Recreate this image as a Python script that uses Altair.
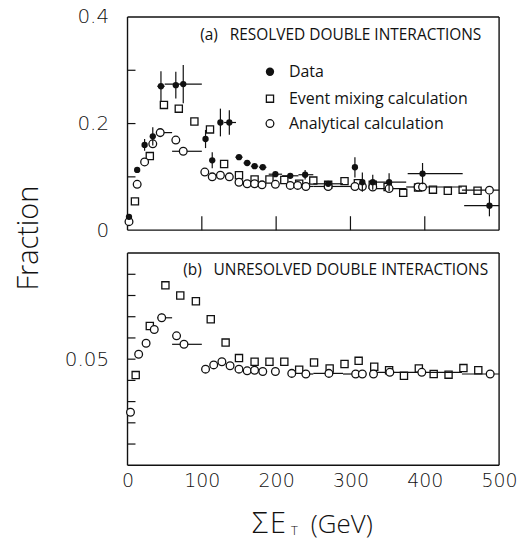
import altair as alt
import pandas as pd

FONT = "Open Sans"
TICKFONT = "DejaVu Sans"

# ---------------- panel (a): resolved double interactions ----------------
data_E = [2, 13, 23, 34, 45, 65, 75, 105, 114, 125, 137, 150, 161, 171, 182,
          199, 219, 239, 270, 306, 316, 330, 352, 397, 487]
data_v = [0.025, 0.113, 0.160, 0.176, 0.270, 0.272, 0.274, 0.171, 0.131, 0.202,
          0.202, 0.137, 0.126, 0.120, 0.118, 0.105, 0.102, 0.104, 0.087, 0.118,
          0.090, 0.090, 0.090, 0.106, 0.046]
data_yerr = [0.005, 0.0, 0.011, 0.017, 0.028, 0.025, 0.036, 0.017, 0.015, 0.026,
             0.023, 0.0, 0.0, 0.0, 0.0, 0.004, 0.004, 0.009, 0.004, 0.019,
             0.018, 0.014, 0.017, 0.020, 0.020]
data_xlo = [2, 13, 23, 34, 40, 65, 50, 105, 114, 125, 130, 145, 156, 166, 177,
            190, 208, 230, 250, 306, 316, 330, 330, 377, 453]
data_xhi = [2, 13, 23, 34, 50, 65, 100, 105, 114, 125, 146, 155, 166, 176, 187,
            208, 230, 250, 290, 306, 316, 330, 375, 451, 500]

mix_a_E = [10, 30, 49, 69, 90, 111, 130, 150, 171, 191, 211, 231, 250, 270,
           292, 310, 330, 350, 371, 391, 411, 431, 451, 471]
mix_a_v = [0.054, 0.139, 0.235, 0.228, 0.204, 0.189, 0.124, 0.103, 0.095,
           0.095, 0.094, 0.087, 0.093, 0.085, 0.092, 0.088, 0.085, 0.081,
           0.070, 0.080, 0.076, 0.074, 0.076, 0.074]

ana_a_E = [2, 13, 23, 34, 44, 65, 75, 104, 114, 125, 137, 150, 161, 171, 181,
           199, 219, 229, 240, 270, 306, 316, 330, 352, 391, 397, 487]
ana_a_v = [0.016, 0.086, 0.128, 0.162, 0.183, 0.169, 0.148, 0.109, 0.100,
           0.103, 0.100, 0.090, 0.087, 0.087, 0.085, 0.086, 0.084, 0.084,
           0.082, 0.082, 0.082, 0.082, 0.081, 0.078, 0.081, 0.081, 0.075]
ana_a_xlo = [2, 13, 23, 34, 40, 65, 60, 104, 114, 125, 137, 150, 161, 171, 181,
             199, 219, 229, 240, 250, 290, 316, 330, 330, 375, 397, 450]
ana_a_xhi = [2, 13, 23, 34, 60, 65, 100, 104, 114, 125, 137, 150, 161, 171, 181,
             199, 219, 229, 250, 290, 310, 316, 330, 375, 391, 450, 500]

# ---------------- panel (b): unresolved double interactions ----------------
mix_b_E = [11, 30, 51, 71, 92, 112, 132, 150, 171, 191, 211, 231, 251, 272,
           292, 311, 332, 352, 372, 392, 412, 432, 452, 472]
mix_b_v = [0.0425, 0.0656, 0.0848, 0.0800, 0.0773, 0.0688, 0.0578, 0.0505,
           0.0488, 0.0488, 0.0488, 0.0450, 0.0484, 0.0456, 0.0477, 0.0492,
           0.0464, 0.0448, 0.0422, 0.0456, 0.0430, 0.0427, 0.0458, 0.0448]

ana_b_E = [4, 15, 25, 36, 46, 66, 76, 105, 116, 127, 138, 150, 161, 171, 182,
           199, 221, 240, 271, 307, 316, 331, 353, 396, 488]
ana_b_v = [0.0250, 0.0523, 0.0575, 0.0640, 0.0695, 0.0610, 0.0570, 0.0453,
           0.0473, 0.0488, 0.0469, 0.0453, 0.0445, 0.0448, 0.0442, 0.0442,
           0.0433, 0.0430, 0.0433, 0.0430, 0.0430, 0.0430, 0.0438, 0.0438,
           0.0430]
ana_b_yerr = [0, 0, 0, 0.0015, 0.0020, 0, 0.0012, 0, 0, 0, 0, 0, 0, 0, 0,
              0, 0, 0, 0, 0, 0, 0, 0, 0, 0]
ana_b_xlo = [4, 15, 25, 36, 40, 66, 60, 105, 116, 127, 138, 150, 161, 171, 182,
             199, 221, 240, 250, 290, 316, 331, 330, 375, 450]
ana_b_xhi = [4, 15, 25, 36, 60, 66, 100, 105, 116, 127, 138, 150, 161, 171, 182,
             199, 221, 250, 290, 310, 316, 331, 375, 450, 500]

# axis ticks / labels
x_ticks_a = [100, 200, 300, 400]
y_ticks_a = [0.1, 0.2, 0.3]
y_labels_a = [0, 0.2, 0.4]
y_ticks_b = [0.01, 0.02, 0.03, 0.04, 0.05, 0.06, 0.07, 0.08, 0.09]
y_labels_b = [0.05]
x_labels_b = [0, 100, 200, 300, 400, 500]

legend_labels = ["Data", "Event mixing calculation", "Analytical calculation"]
title_a = "(a)\u2002 RESOLVED DOUBLE INTERACTIONS"
title_b = "(b)\u2002 UNRESOLVED DOUBLE INTERACTIONS"

W = 373
HA = 214
HB = 213
INK = "#111111"

xscale = alt.Scale(domain=[0, 500], nice=False, zero=False)
ya = alt.Scale(domain=[0, 0.4], nice=False)
yb = alt.Scale(domain=[0, 0.1], nice=False)

ax_a_x = None
ax_a_y = alt.Axis(values=y_labels_a, format="~g", ticks=False, domain=False,
                  grid=False, labelFont=TICKFONT, labelFontSize=20,
                  labelColor=INK, labelPadding=19, labelFontWeight=300)
ax_b_y = alt.Axis(values=y_labels_b, format="~g", ticks=False, domain=False,
                  grid=False, labelFont=TICKFONT, labelFontSize=20,
                  labelColor=INK, labelPadding=19, labelFontWeight=300)
ax_b_x = alt.Axis(values=x_labels_b, format="d", ticks=False, domain=False,
                  grid=False, labelFont=TICKFONT, labelFontSize=19,
                  labelColor=INK, labelPadding=6, labelFontWeight=300,
                  labelFlush=False)

df_data = pd.DataFrame({"E": data_E, "v": data_v,
                        "lo": [v - e for v, e in zip(data_v, data_yerr)],
                        "hi": [v + e for v, e in zip(data_v, data_yerr)],
                        "xlo": data_xlo, "xhi": data_xhi})
df_mix_a = pd.DataFrame({"E": mix_a_E, "v": mix_a_v})
df_ana_a = pd.DataFrame({"E": ana_a_E, "v": ana_a_v,
                         "xlo": ana_a_xlo, "xhi": ana_a_xhi})
df_mix_b = pd.DataFrame({"E": mix_b_E, "v": mix_b_v})
df_ana_b = pd.DataFrame({"E": ana_b_E, "v": ana_b_v,
                         "lo": [v - e for v, e in zip(ana_b_v, ana_b_yerr)],
                         "hi": [v + e for v, e in zip(ana_b_v, ana_b_yerr)],
                         "xlo": ana_b_xlo, "xhi": ana_b_xhi})


class Panel:
    def __init__(self, yscale, xaxis, yaxis, h):
        self.ys = yscale
        self.xa = xaxis
        self.ya = yaxis
        self.h = h

    def X(self, field="E"):
        return alt.X(f"{field}:Q", scale=xscale, axis=self.xa, title=None)

    def Y(self, field="v"):
        return alt.Y(f"{field}:Q", scale=self.ys, axis=self.ya, title=None)

    def squares(self, df):
        return alt.Chart(df).mark_point(shape="square", filled=False, size=52,
                                        strokeWidth=1.3, color=INK, opacity=1).encode(
            x=self.X(), y=self.Y())

    def circles(self, df):
        return alt.Chart(df).mark_point(shape="circle", filled=True, size=60,
                                        fill="white", stroke=INK, strokeWidth=1.3,
                                        opacity=1, fillOpacity=1).encode(
            x=self.X(), y=self.Y())

    def hbars(self, df):
        return alt.Chart(df).mark_rule(color=INK, strokeWidth=1.2).encode(
            x=self.X("xlo"), x2="xhi:Q", y=self.Y())

    def vbars(self, df):
        return alt.Chart(df).mark_rule(color=INK, strokeWidth=1.2).encode(
            x=self.X(), y=self.Y("lo"), y2="hi:Q")

    def yticks(self, vals):
        return alt.Chart(pd.DataFrame({"v": vals})).mark_rule(
            color=INK, strokeWidth=1.2).encode(
            y=self.Y(), x=alt.value(0), x2=alt.value(8))

    def xticks(self, vals):
        return alt.Chart(pd.DataFrame({"E": vals})).mark_rule(
            color=INK, strokeWidth=1.2).encode(
            x=self.X(), y=alt.value(self.h - 14), y2=alt.value(self.h))

    def base(self):
        return alt.Chart(pd.DataFrame({"E": [0], "v": [0.0]})).mark_point(
            opacity=0).encode(x=self.X(), y=self.Y())

    def frame(self):
        one = pd.DataFrame({"a": [0]})
        edges = [
            dict(x=alt.value(0), x2=alt.value(W), y=alt.value(0)),
            dict(x=alt.value(0), x2=alt.value(W), y=alt.value(self.h)),
            dict(x=alt.value(0), y=alt.value(0), y2=alt.value(self.h)),
            dict(x=alt.value(W), y=alt.value(0), y2=alt.value(self.h)),
        ]
        return [alt.Chart(one).mark_rule(color=INK, strokeWidth=1.4).encode(**e)
                for e in edges]


def text_at(txt, xx, yy, fs, weight=400, align="left", baseline="middle",
            angle=0, font=FONT):
    kw = dict(font=font, fontSize=fs, fontWeight=weight, align=align,
              baseline=baseline, color=INK)
    if angle:
        kw["angle"] = angle
    return alt.Chart(pd.DataFrame({"t": [txt]})).mark_text(**kw).encode(
        text="t:N", x=alt.value(xx), y=alt.value(yy))


# ---------------- top panel ----------------
pa = Panel(ya, ax_a_x, ax_a_y, HA)

leg_y = [55, 82, 107]
leg_marks = [
    alt.Chart(pd.DataFrame({"a": [0]})).mark_point(
        shape="circle", filled=True, size=70, color=INK, opacity=1).encode(
        x=alt.value(143), y=alt.value(leg_y[0])),
    alt.Chart(pd.DataFrame({"a": [0]})).mark_point(
        shape="square", filled=False, size=52, strokeWidth=1.3, color=INK, opacity=1).encode(
        x=alt.value(143), y=alt.value(leg_y[1])),
    alt.Chart(pd.DataFrame({"a": [0]})).mark_point(
        shape="circle", filled=False, size=60, strokeWidth=1.3, color=INK, opacity=1).encode(
        x=alt.value(143), y=alt.value(leg_y[2])),
]
for lab, yy in zip(legend_labels, leg_y):
    leg_marks.append(text_at(lab, 162, yy, 16))

data_pts = alt.Chart(df_data).mark_point(shape="circle", filled=True, size=40,
                                         color=INK, opacity=1).encode(
    x=pa.X(), y=pa.Y())

top = alt.layer(
    pa.base(), *pa.frame(), pa.xticks(x_ticks_a), pa.yticks(y_ticks_a),
    pa.hbars(df_ana_a), pa.squares(df_mix_a), pa.circles(df_ana_a),
    pa.vbars(df_data), pa.hbars(df_data), data_pts,
    text_at(title_a, 73, 18, 15.5),
    *leg_marks,
    text_at("Fraction", -99, 222, 29, weight=300, align="center", angle=270),
).properties(width=W, height=HA)

# ---------------- bottom panel ----------------
pb = Panel(yb, ax_b_x, ax_b_y, HB)

bottom = alt.layer(
    pb.base(), *pb.frame(), pb.yticks(y_ticks_b),
    pb.hbars(df_ana_b), pb.vbars(df_ana_b),
    pb.squares(df_mix_b), pb.circles(df_ana_b),
    text_at(title_b, 56, 17, 15.5),
    text_at("\u03a3", 125, HB + 68, 29, weight=300, baseline="alphabetic"),
    text_at("E", 143, HB + 68, 29, weight=300, baseline="alphabetic"),
    text_at("T", 164, HB + 70, 13, weight=300, baseline="alphabetic"),
    text_at("(GeV)", 184, HB + 68, 26, weight=300, baseline="alphabetic"),
).properties(width=W, height=HB)

chart = alt.vconcat(top, bottom, spacing=23, bounds="flush").properties(
    padding={"left": 15, "top": 6, "right": 5, "bottom": 2}
).configure(background="white").configure_view(stroke=None)

chart.save("out.html", embed_options={"renderer": "svg", "actions": False})
